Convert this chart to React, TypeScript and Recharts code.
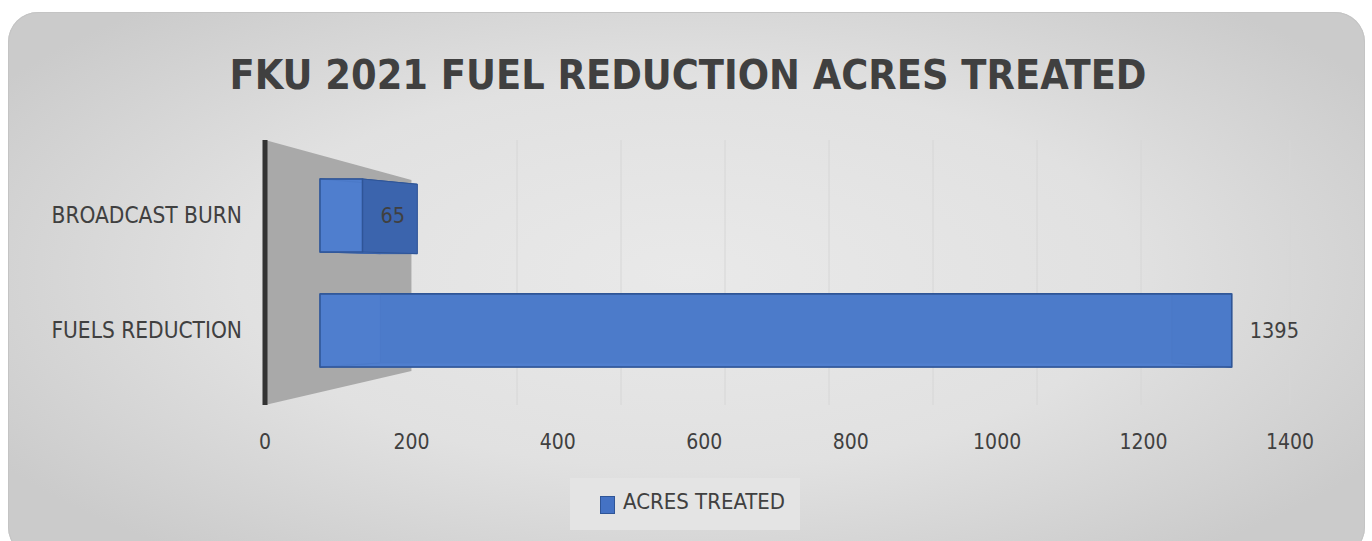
import React from "react";
import {
  BarChart,
  Bar,
  XAxis,
  YAxis,
  CartesianGrid,
  ReferenceArea,
  LabelList,
  Legend,
} from "recharts";

const categories = ["BROADCAST BURN", "FUELS REDUCTION"];
const acresTreated = [65, 1395];
const xTicks = [0, 200, 400, 600, 800, 1000, 1200, 1400];
const backGridTicks = [200, 400, 600, 800, 1000, 1200, 1400];
const seriesName = "ACRES TREATED";
const title = "FKU 2021 FUEL REDUCTION ACRES TREATED";

const data = categories.map((name, i) => ({ name, acres: acresTreated[i] }));

const FONT = "'DejaVu Sans Condensed', 'Liberation Sans', sans-serif";
const TEXT = "#404040";

// fake perspective for the 3D look (vanishing point + depth factor)
const VP = { x: 778, y: 285 };
const KX = 0.868;
const KY = 0.95;

const Box3D = (props: any) => {
  const { x, y, width, height } = props;
  if (width == null || width <= 0) return null;
  const bx = (px: number) => VP.x + KX * (px - VP.x);
  const by = (py: number) => VP.y + KY * (py - VP.y);
  const fx1 = x, fx2 = x + width, fy1 = y, fy2 = y + height;
  const bx1 = bx(fx1), bx2 = bx(fx2), by1 = by(fy1), by2 = by(fy2);
  const quad = (pts: number[][]) => pts.map((p) => p.join(",")).join(" ");
  return (
    <g>
      <rect x={Math.min(bx1, bx2)} y={by1} width={Math.abs(bx2 - bx1)} height={by2 - by1} fill="#3f68b3" />
      <polygon points={quad([[fx1, fy1], [fx2, fy1], [bx2, by1], [bx1, by1]])} fill="#4a76c4" stroke="#2f5597" strokeWidth={1} />
      <polygon points={quad([[fx1, fy2], [fx2, fy2], [bx2, by2], [bx1, by2]])} fill="#5580cc" stroke="#3a62a8" strokeWidth={1} />
      <polygon points={quad([[fx1, fy1], [bx1, by1], [bx1, by2], [fx1, fy2]])} fill="#4d79c8" stroke="#3a62a8" strokeWidth={1} />
      <polygon points={quad([[fx2, fy1], [bx2, by1], [bx2, by2], [fx2, fy2]])} fill="#3b64ad" stroke="#2f5597" strokeWidth={1} />
      <rect x={fx1} y={fy1} width={width} height={height} fill="#4f7fd0" fillOpacity={0.82} stroke="#2f5597" strokeWidth={1.5} />
    </g>
  );
};

// grey side wall behind the category axis
const Wall = (props: any) => {
  const { x, y, width, height } = props;
  if (x == null || y == null) return null;
  const top = y - 18;
  const bottom = y + height + 17;
  const pts = [
    [x, top],
    [x + width, top + 40],
    [x + width, bottom - 34],
    [x, bottom],
  ];
  return <polygon points={pts.map((p) => p.join(",")).join(" ")} fill="#a9a9a9" />;
};

const LegendBox = () => (
  <div
    style={{
      width: 230,
      height: 52,
      boxSizing: "border-box",
      paddingBottom: 6,
      background: "#e4e4e4",
      display: "flex",
      alignItems: "center",
      whiteSpace: "nowrap",
      fontFamily: FONT,
      fontSize: 22,
      color: TEXT,
    }}
  >
    <span
      style={{
        display: "inline-block",
        width: 13,
        height: 16,
        marginLeft: 30,
        marginRight: 8,
        marginTop: 8,
        background: "#4472c4",
        border: "1px solid #2f5597",
      }}
    />
    {seriesName}
  </div>
);

export default function App() {
  return (
    <div
      style={{
        position: "absolute",
        left: 0,
        top: 0,
        width: 1372,
        height: 541,
        background: "#ffffff",
        overflow: "hidden",
      }}
    >
      <div
        style={{
          position: "absolute",
          left: 8,
          top: 12,
          width: 1357,
          height: 545,
          borderRadius: 30,
          background:
            "radial-gradient(ellipse 60% 65% at 50% 48%, #e9e9e9 0%, #e1e1e1 55%, #cbcbcb 100%)",
          boxShadow: "inset 0 0 0 1px #c4c4c4",
        }}
      />
      <div
        style={{
          position: "absolute",
          left: 0,
          top: 53,
          width: 1376,
          textAlign: "center",
          fontFamily: FONT,
          fontWeight: 700,
          fontSize: 41,
          lineHeight: "44px",
          color: TEXT,
        }}
      >
        {title}
      </div>
      <div style={{ position: "absolute", left: 0, top: 0 }}>
        <BarChart
          width={1372}
          height={541}
          data={data}
          layout="vertical"
          margin={{ top: 140, right: 82, bottom: 11, left: 15 }}
        >
          <CartesianGrid xAxisId="grid" horizontal={false} vertical={true} stroke="#d6d6d6" />
          <XAxis
            xAxisId="ticks"
            type="number"
            domain={[0, 1400]}
            allowDataOverflow={true}
            ticks={xTicks}
            axisLine={false}
            tickLine={false}
            height={73}
            tickMargin={23}
            tick={{ fill: TEXT, fontSize: 21, fontFamily: FONT }}
          />
          <XAxis
            xAxisId="bars"
            type="number"
            domain={[0, 1400]}
            padding={{ left: 55, right: 55 }}
            height={0}
            hide
          />
          <XAxis
            xAxisId="grid"
            type="number"
            domain={[0, 1400]}
            allowDataOverflow={true}
            ticks={backGridTicks}
            padding={{ left: 148, right: 149 }}
            height={0}
            hide
          />
          <YAxis
            type="category"
            dataKey="name"
            width={250}
            padding={{ top: 18, bottom: 17 }}
            axisLine={{ stroke: "#333333", strokeWidth: 5 }}
            tickLine={false}
            tickMargin={17}
            tick={{ fill: TEXT, fontSize: 22.5, fontFamily: FONT }}
          />
          <ReferenceArea
            xAxisId="ticks"
            x1={0}
            x2={200}
            y1={categories[0]}
            y2={categories[categories.length - 1]}
            ifOverflow="visible"
            shape={<Wall />}
          />
          <Legend
            verticalAlign="bottom"
            content={<LegendBox />}
            wrapperStyle={{ left: 570, width: 230 }}
          />
          <Bar
            xAxisId="bars"
            dataKey="acres"
            name={seriesName}
            barSize={73}
            shape={<Box3D />}
            isAnimationActive={false}
          >
            <LabelList dataKey="acres" position="right" offset={18} fill={TEXT} fontSize={21.5} fontFamily={FONT} />
          </Bar>
        </BarChart>
      </div>
    </div>
  );
}
